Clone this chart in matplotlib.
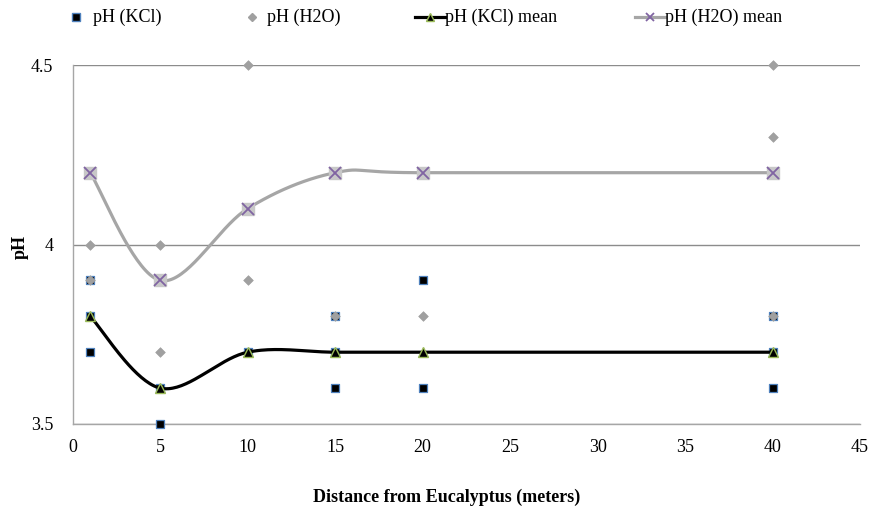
import numpy as np
import matplotlib.pyplot as plt
from matplotlib.lines import Line2D

plt.rcParams['font.family'] = ['Liberation Serif', 'DejaVu Serif']

# valeurs
kcl_x = [1, 1, 1, 5, 5, 10, 15, 15, 15, 20, 20, 40, 40, 40]
kcl_y = [3.9, 3.8, 3.7, 3.6, 3.5, 3.7, 3.8, 3.7, 3.6, 3.9, 3.6, 3.8, 3.7, 3.6]

h2o_x = [1, 1, 5, 5, 10, 10, 15, 20, 40, 40, 40]
h2o_y = [4.0, 3.9, 4.0, 3.7, 4.5, 3.9, 3.8, 3.8, 4.5, 4.3, 3.8]

dist = [1, 5, 10, 15, 20, 40]
kcl_mean = [3.8, 3.6, 3.7, 3.7, 3.7, 3.7]
h2o_mean = [4.2, 3.9, 4.1, 4.2, 4.2, 4.2]

x_ticks = [0, 5, 10, 15, 20, 25, 30, 35, 40, 45]
y_ticks = [3.5, 4.0, 4.5]
y_labels = ['3.5', '4', '4.5']

W, H = 873, 513
fs = 13


def lissage(xs, ys, n=40):  # courbe lissée façon Excel (Bezier / Catmull-Rom)
    p = np.column_stack([xs, ys]).astype(float)
    p = np.vstack([p[0], p, p[-1]])
    out = []
    t = np.linspace(0, 1, n)[:, None]
    for i in range(1, len(p) - 2):
        p0, p1, p2, p3 = p[i-1], p[i], p[i+1], p[i+2]
        c1 = p1 + (p2 - p0) / 6
        c2 = p2 - (p3 - p1) / 6
        b = ((1-t)**3)*p1 + 3*((1-t)**2)*t*c1 + 3*(1-t)*t**2*c2 + t**3*p2
        out.append(b)
    out = np.vstack(out)
    return out[:, 0], out[:, 1]


fig = plt.figure(figsize=(W/100, H/100), dpi=100)
ax = fig.add_axes([72.7/W, 1-424/H, (860-72.7)/W, (424-65)/H])

ax.scatter(kcl_x, kcl_y, marker='s', s=40, c='black', edgecolors='#4f81bd',
           linewidths=0.9, zorder=3, clip_on=False)
ax.scatter(h2o_x, h2o_y, marker='D', s=24, c='#a0a0a0', edgecolors='#a0a0a0',
           linewidths=0.5, zorder=4, clip_on=False)

xs, ys = lissage(dist, kcl_mean)
ax.plot(xs, ys, color='black', lw=2.3, zorder=5)
ax.plot(dist, kcl_mean, ls='none', marker='^', ms=7, mfc='black',
        mec='#9bbb59', mew=1.0, zorder=6)

xs, ys = lissage(dist, h2o_mean)
ax.plot(xs, ys, color='#a6a6a6', lw=2.3, zorder=5)
ax.plot(dist, h2o_mean, ls='none', marker='s', ms=8, mfc='#c8c8c8',
        mec='#c8c8c8', zorder=6)
ax.plot(dist, h2o_mean, ls='none', marker='x', ms=8, mec='#8064a2',
        mew=1.3, zorder=7)

ax.set_xlim(0, 45)
ax.set_ylim(3.5, 4.5)
ax.set_xticks(x_ticks)
ax.set_yticks(y_ticks)
ax.set_yticklabels(y_labels)
ax.tick_params(length=0, labelsize=fs)
ax.tick_params(axis='y', pad=14)
ax.tick_params(axis='x', pad=11)
ax.grid(axis='y', color='#8c8c8c', lw=1)
ax.set_axisbelow(True)
for s in ['top', 'right']:
    ax.spines[s].set_visible(False)
for s in ['left', 'bottom']:
    ax.spines[s].set_color('#a6a6a6')
    ax.spines[s].set_linewidth(1)

# légende dessinée à la main en haut
ly = 1 - 17/H
fig.add_artist(Line2D([76/W], [ly], ls='none', marker='s', ms=6, mfc='black',
                      mec='#4f81bd', transform=fig.transFigure))
fig.add_artist(Line2D([252/W], [ly], ls='none', marker='D', ms=4.5,
                      mfc='#a0a0a0', mec='#a0a0a0', transform=fig.transFigure))
fig.add_artist(Line2D([415/W, 445/W], [ly, ly], color='black', lw=2.3,
                      transform=fig.transFigure))
fig.add_artist(Line2D([430/W], [ly], ls='none', marker='^', ms=6, mfc='black',
                      mec='#9bbb59', transform=fig.transFigure))
fig.add_artist(Line2D([635/W, 665/W], [ly, ly], color='#a6a6a6', lw=2.3,
                      transform=fig.transFigure))
fig.add_artist(Line2D([650/W], [ly], ls='none', marker='x', ms=6,
                      mec='#8064a2', mew=1.3, transform=fig.transFigure))
for x0, txt in [(93, 'pH (KCl)'), (267, 'pH (H2O)'), (445, 'pH (KCl) mean'),
                (665, 'pH (H2O) mean')]:
    fig.text(x0/W, ly, txt, ha='left', va='center', fontsize=fs)

fig.text(447/W, 1-497/H, 'Distance from Eucalyptus (meters)', ha='center',
         va='center', fontsize=fs, fontweight='bold')
fig.text(20/W, 1-247/H, 'pH', ha='center', va='center', rotation=90,
         fontsize=fs, fontweight='bold')

plt.savefig('out.png', dpi=100)
